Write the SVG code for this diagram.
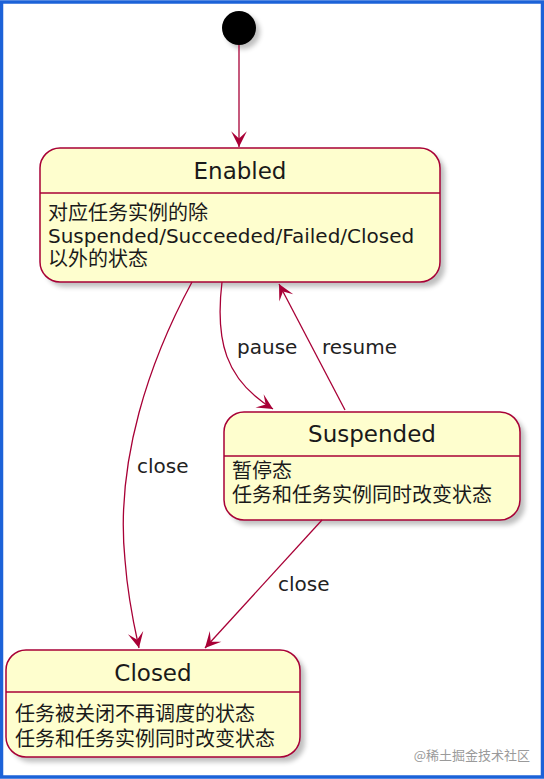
<svg xmlns="http://www.w3.org/2000/svg" width="544" height="779" viewBox="0 0 544 779">
<defs>
<style>
.node{fill:#FEFECE;stroke:#A80036;stroke-width:1.5}
.sep{stroke:#A80036;stroke-width:1.5}
.shadow{fill:#000;opacity:0.25;filter:url(#blur)}
.title{font-family:"DejaVu Sans","Noto Sans CJK SC",sans-serif;font-size:23px;fill:#1a1a1a;text-anchor:middle}
.body{font-family:"DejaVu Sans","Noto Sans CJK SC",sans-serif;font-size:20px;fill:#1a1a1a}
.lbl{font-family:"DejaVu Sans","Noto Sans CJK SC",sans-serif;font-size:20px;fill:#222}
.edge{fill:none;stroke:#A80036;stroke-width:1.3;marker-end:url(#arr)}
</style>
<filter id="blur" x="-10%" y="-10%" width="130%" height="130%"><feGaussianBlur stdDeviation="2.5"/></filter>
<marker id="arr" markerUnits="userSpaceOnUse" markerWidth="20" markerHeight="20" viewBox="-12 -7 14 14" refX="0" refY="0" orient="auto">
<path d="M0,0 L-11,-5.5 L-6,0 L-11,5.5 Z" fill="#A80036"/>
</marker>
</defs>
<rect x="0" y="0" width="544" height="779" fill="#fff"/>
<rect x="1.5" y="2" width="541" height="775" fill="none" stroke="#1c62d8" stroke-width="3.5"/>

<g id="start">
<circle cx="243" cy="32" r="17" class="shadow"/>
<circle cx="239" cy="28" r="17" fill="#000"/>
</g>

<g id="enabled">
<rect x="45" y="153" width="400" height="134" rx="20" class="shadow"/>
<rect x="40" y="148" width="400" height="134" rx="20" class="node"/>
<line x1="40" y1="193" x2="440" y2="193" class="sep"/>
<text x="240" y="179" class="title">Enabled</text>
<text x="48" y="220" class="body">对应任务实例的除</text>
<text x="48" y="243" class="body">Suspended/Succeeded/Failed/Closed</text>
<text x="48" y="266" class="body">以外的状态</text>
</g>

<g id="suspended">
<rect x="229" y="417" width="296" height="108" rx="20" class="shadow"/>
<rect x="224" y="412" width="296" height="108" rx="20" class="node"/>
<line x1="224" y1="456" x2="520" y2="456" class="sep"/>
<text x="372" y="442" class="title">Suspended</text>
<text x="232" y="478" class="body">暂停态</text>
<text x="232" y="502" class="body">任务和任务实例同时改变状态</text>
</g>

<g id="closed">
<rect x="11" y="655" width="294" height="107" rx="20" class="shadow"/>
<rect x="6" y="650" width="294" height="107" rx="20" class="node"/>
<line x1="6" y1="692" x2="300" y2="692" class="sep"/>
<text x="153" y="681" class="title">Closed</text>
<text x="15" y="721" class="body">任务被关闭不再调度的状态</text>
<text x="15" y="746" class="body">任务和任务实例同时改变状态</text>
</g>

<g id="connectors">
<path class="edge" d="M192,282 C150,360 115,460 125,560 C128,600 135,630 139,648"/>
<path class="edge" d="M239,45 L239,147"/>
<path class="edge" d="M222,282 C215,340 225,380 273,409"/>
<path class="edge" d="M345,410 L279,284"/>
<path class="edge" d="M322,520 L205,648"/>
<text x="137" y="473" class="lbl">close</text>
<text x="237" y="354" class="lbl">pause</text>
<text x="322" y="354" class="lbl">resume</text>
<text x="278" y="591" class="lbl">close</text>
</g>

<text x="530" y="760" text-anchor="end" font-family="'Noto Sans CJK SC',sans-serif" font-size="13" fill="#9a9a9a">@稀土掘金技术社区</text>
</svg>
